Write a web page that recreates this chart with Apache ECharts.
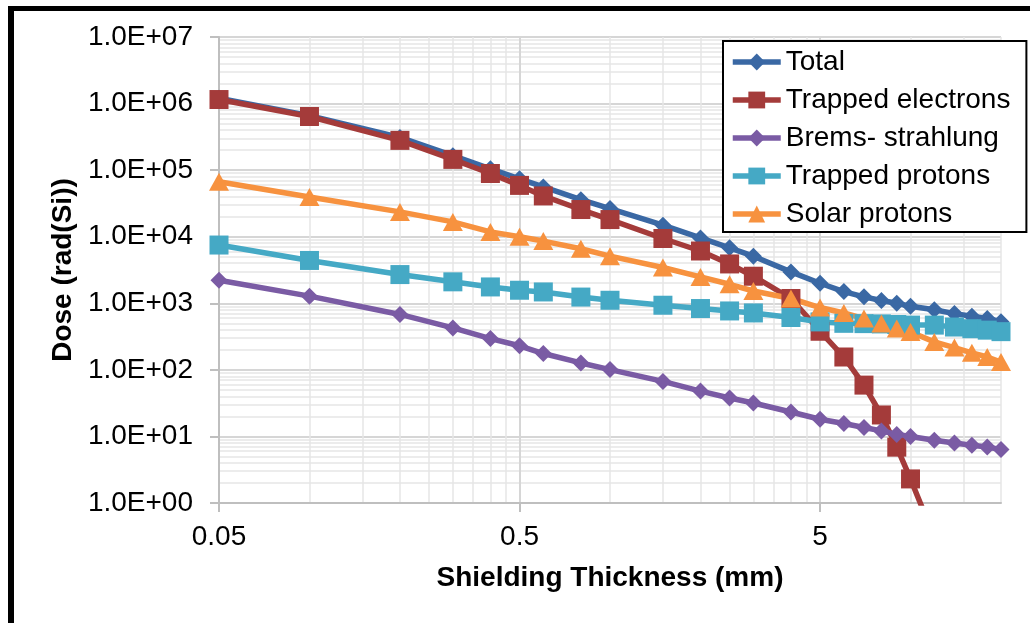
<!DOCTYPE html>
<html><head><meta charset="utf-8">
<script src="https://cdn.jsdelivr.net/npm/echarts@6/dist/echarts.min.js"></script>
<style>html,body{margin:0;padding:0;background:#fff}#c{width:1030px;height:623px}</style>
</head><body><div id="c"></div>
<script>
// ---- data ----
const thickness = [0.05,0.1,0.2,0.3,0.4,0.5,0.6,0.8,1.0,1.5,2.0,2.5,3.0,4.0,5.0,6.0,7.0,8.0,9.0,10,12,14,16,18,20];
const total = [1.2e6,6.6e5,3.1e5,1.65e5,1.05e5,7.4e4,5.6e4,3.6e4,2.65e4,1.49e4,9.6e3,6.8e3,5.1e3,2.96e3,2.0e3,1.5e3,1.25e3,1.1e3,1.0e3,900,800,700,640,590,530];
const trappedElectrons = [1.15e6,6.4e5,2.8e5,1.45e5,8.9e4,5.9e4,4.1e4,2.56e4,1.81e4,9.4e3,6.1e3,3.9e3,2.55e3,1.18e3,380,156,59,21,6.9,2.3,0.3];
const bremsstrahlung = [2.22e3,1.28e3,680,426,295,230,176,127,101,67,48,37.8,31.8,23.3,18.1,15.6,13.6,12.1,10.7,10.0,8.75,7.97,7.36,6.94,6.34];
const trappedProtons = [7.5e3,4.4e3,2.7e3,2.1e3,1.76e3,1.57e3,1.48e3,1.24e3,1.11e3,935,834,767,716,611,525,500,495,490,480,470,470,440,415,395,375];
const solarProtons = [6.7e4,3.96e4,2.36e4,1.67e4,1.18e4,1.0e4,8.6e3,6.6e3,5.1e3,3.45e3,2.49e3,1.93e3,1.53e3,1.18e3,863,716,590,497,417,371,263,216,180,156,131];
const seriesNames = ['Total','Trapped electrons','Brems- strahlung','Trapped protons','Solar protons'];
const xTickLabels = [0.05, 0.5, 5];
const xMin = 0.05, xMax = 20, yMin = 1, yMax = 1e7;

// ---- helpers ----
const FONT = "'Liberation Sans', Arial, sans-serif";
const pair = (ys) => ys.map((y, i) => [thickness[i], y]);
function fmtE(v) {
  const e = Math.round(Math.log10(v));
  const m = v / Math.pow(10, e);
  return m.toFixed(1) + 'E' + (e < 0 ? '-' : '+') + String(Math.abs(e)).padStart(2, '0');
}
// log minor gridline values (k * base within each decade)
const xMinor = [];
xTickLabels.forEach(b => { for (let k = 2; k <= 9; k++) { const v = +(b * k).toPrecision(6); if (v <= xMax) xMinor.push(v); } });
const yMinor = [];
for (let e = 0; e < 7; e++) for (let k = 2; k <= 9; k++) yMinor.push(k * Math.pow(10, e));

const colors = ['#3A68A4', '#A43B3A', '#7A5BA4', '#45A9C5', '#F7923F'];
const symbols = ['diamond', 'rect', 'diamond', 'rect', 'triangle'];
const sizes = [17, 19, 17, 19, [20, 18]];
const values = [total, trappedElectrons, bremsstrahlung, trappedProtons, solarProtons];

const chart = echarts.init(document.getElementById('c'), null, {renderer: 'canvas'});
const series = [{
  name: 'grid', type: 'line', data: [], silent: true, z: 0,
  markLine: {
    silent: true, symbol: 'none', animation: false, z: 0,
    label: {show: false},
    lineStyle: {type: 'solid', color: '#e6e6e6', width: 1.5},
    emphasis: {disabled: true},
    data: [
      ...xMinor.map(v => ({xAxis: v})),
      ...yMinor.map(v => ({yAxis: v})),
      ...xTickLabels.slice(1).map(v => ({xAxis: v, lineStyle: {color: '#d6d6d6', width: 2}}))
    ]
  }
}];
seriesNames.forEach((n, i) => series.push({
  name: n, type: 'line', data: pair(values[i]),
  symbol: symbols[i], symbolSize: sizes[i], showSymbol: true,
  lineStyle: {width: 5.5, color: colors[i]},
  itemStyle: {color: colors[i]},
  emphasis: {disabled: true}, clip: true, z: 3
}));

chart.setOption({
  animation: false,
  backgroundColor: '#fff',
  graphic: [
    {type: 'rect', shape: {x: 8, y: 6, width: 1022, height: 5}, style: {fill: '#000'}, z: 100},
    {type: 'rect', shape: {x: 8, y: 6, width: 6, height: 617}, style: {fill: '#000'}, z: 100}
  ],
  grid: {left: 219, right: 29, top: 37, bottom: 120},
  legend: {
    data: seriesNames, orient: 'vertical', left: 723, top: 41,
    backgroundColor: '#fff', borderColor: '#000', borderWidth: 2, borderRadius: 0,
    padding: [7, 16, 4, 7], itemGap: 10, itemWidth: 48, itemHeight: 21,
    lineStyle: {width: 5.5},
    textStyle: {fontSize: 28, color: '#000', fontFamily: FONT},
    z: 10
  },
  xAxis: {
    type: 'log', logBase: 10, min: xMin, max: xMax,
    name: 'Shielding Thickness (mm)', nameLocation: 'middle', nameGap: 61,
    nameTextStyle: {fontSize: 28, fontWeight: 'bold', color: '#000', fontFamily: FONT},
    axisLine: {show: true, lineStyle: {color: '#bfbfbf', width: 2}},
    axisTick: {show: true, length: 9, customValues: xTickLabels, lineStyle: {color: '#bfbfbf', width: 2}},
    axisLabel: {show: true, customValues: xTickLabels, fontSize: 28, color: '#000', fontFamily: FONT, margin: 20,
      formatter: v => String(+(+v).toPrecision(6))},
    splitLine: {show: false}, minorTick: {show: false}, minorSplitLine: {show: false}
  },
  yAxis: {
    type: 'log', logBase: 10, min: yMin, max: yMax,
    name: 'Dose (rad(Si))', nameLocation: 'middle', nameGap: 142, nameRotate: 90,
    nameTextStyle: {fontSize: 28, fontWeight: 'bold', color: '#000', fontFamily: FONT},
    axisLine: {show: true, lineStyle: {color: '#bfbfbf', width: 2}},
    axisTick: {show: true, length: 9, lineStyle: {color: '#bfbfbf', width: 2}},
    axisLabel: {fontSize: 28, color: '#000', fontFamily: FONT, margin: 26, formatter: v => fmtE(v)},
    splitLine: {show: true, lineStyle: {color: '#d6d6d6', width: 2}},
    minorTick: {show: false}, minorSplitLine: {show: false}
  },
  series
});
</script></body></html>
